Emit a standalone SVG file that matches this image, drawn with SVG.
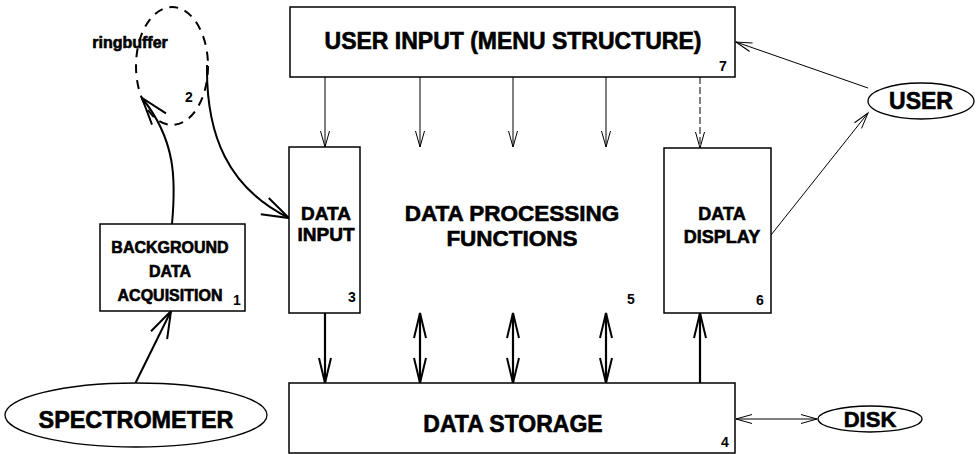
<svg xmlns="http://www.w3.org/2000/svg" width="976" height="454" viewBox="0 0 976 454">
  <style>
    .box { fill: #fff; stroke: #000; stroke-width: 1.5; }
    .oval { fill: #fff; stroke: #000; stroke-width: 1.3; }
    .lbl { font-family: "Liberation Sans", Arial, Helvetica, sans-serif; font-weight: bold; fill: #000; stroke: #000; stroke-width: 0.6; text-anchor: middle; }
    .num { font-family: "Liberation Sans", Arial, Helvetica, sans-serif; font-weight: bold; font-size: 14px; fill: #000; text-anchor: middle; }
    .thin { fill: none; stroke: #000; stroke-width: 1; }
    .thick { fill: none; stroke: #000; stroke-width: 2.2; }
    .curve { fill: none; stroke: #000; stroke-width: 2; }
  </style>
  <defs>
    <!-- open V arrowheads, sized in user units -->
    <marker id="vSmall" viewBox="-18 -6 20 12" refX="0" refY="0" markerWidth="20" markerHeight="12" orient="auto-start-reverse" markerUnits="userSpaceOnUse">
      <path d="M-16,-4.5 L0,0 L-16,4.5" fill="none" stroke="#000" stroke-width="1"/>
    </marker>
    <marker id="vLarge" viewBox="-28 -8 30 16" refX="0" refY="0" markerWidth="30" markerHeight="16" orient="auto-start-reverse" markerUnits="userSpaceOnUse">
      <path d="M-25,-6 L0,0 L-25,6" fill="none" stroke="#000" stroke-width="2"/>
    </marker>
    <marker id="vCurve" viewBox="-30 -12 32 24" refX="0" refY="0" markerWidth="32" markerHeight="24" orient="auto" markerUnits="userSpaceOnUse">
      <path d="M-27,-9 L0,0 L-27,9" fill="none" stroke="#000" stroke-width="2"/>
    </marker>
  </defs>

  <!-- connectors -->
  <g id="connectors">
    <!-- menu structure feeding the functions below -->
    <line class="thin" x1="325" y1="77" x2="325" y2="147" marker-end="url(#vSmall)"/>
    <line class="thin" x1="420" y1="77" x2="420" y2="147" marker-end="url(#vSmall)"/>
    <line class="thin" x1="513" y1="77" x2="513" y2="147" marker-end="url(#vSmall)"/>
    <line class="thin" x1="606" y1="77" x2="606" y2="147" marker-end="url(#vSmall)"/>
    <line class="thin" x1="700" y1="77" x2="700" y2="148" stroke-dasharray="7 3" marker-end="url(#vSmall)"/>

    <!-- storage links -->
    <line class="thick" x1="325" y1="313" x2="325" y2="383" marker-end="url(#vLarge)"/>
    <line class="thick" x1="420" y1="313" x2="420" y2="383" marker-start="url(#vLarge)" marker-end="url(#vLarge)"/>
    <line class="thick" x1="513" y1="313" x2="513" y2="383" marker-start="url(#vLarge)" marker-end="url(#vLarge)"/>
    <line class="thick" x1="606" y1="313" x2="606" y2="383" marker-start="url(#vLarge)" marker-end="url(#vLarge)"/>
    <line class="thick" x1="700" y1="383" x2="700" y2="313" marker-end="url(#vLarge)"/>

    <!-- user interaction -->
    <line class="thin" x1="868" y1="88" x2="736" y2="42" marker-end="url(#vSmall)"/>
    <line class="thin" x1="771" y1="235" x2="868" y2="113" marker-end="url(#vSmall)"/>

    <!-- disk exchange -->
    <line class="thin" x1="736" y1="419" x2="817" y2="419" marker-start="url(#vSmall)" marker-end="url(#vSmall)"/>

    <!-- acquisition path -->
    <line class="curve" x1="135" y1="384" x2="171" y2="311" marker-end="url(#vCurve)"/>
    <path class="curve" d="M172,224 C176,180 176,140 142,98" marker-end="url(#vCurve)"/>
    <path class="curve" d="M207,65 C206,135 228,188 289,218" marker-end="url(#vCurve)"/>
  </g>

  <g id="ringbuffer">
    <ellipse cx="172" cy="66" rx="36" ry="59" fill="none" stroke="#000" stroke-width="2" stroke-dasharray="9 7"/>
    <text class="lbl" x="130" y="48" font-size="16" stroke-width="0.4">ringbuffer</text>
    <text class="num" x="189" y="102">2</text>
  </g>

  <g id="user-input">
    <rect class="box" x="290" y="7" width="445" height="70"/>
    <text class="lbl" x="513" y="49" font-size="23">USER INPUT (MENU STRUCTURE)</text>
    <text class="num" x="723" y="71">7</text>
  </g>

  <g id="data-input">
    <rect class="box" x="289" y="147" width="71" height="166"/>
    <text class="lbl" x="326" y="220" font-size="19">DATA</text>
    <text class="lbl" x="326" y="241" font-size="19">INPUT</text>
    <text class="num" x="352" y="302">3</text>
  </g>

  <g id="processing">
    <text class="lbl" x="512" y="221" font-size="22.5">DATA PROCESSING</text>
    <text class="lbl" x="512" y="246" font-size="22.5">FUNCTIONS</text>
    <text class="num" x="631" y="304">5</text>
  </g>

  <g id="data-display">
    <rect class="box" x="664" y="148" width="107" height="165"/>
    <text class="lbl" x="722" y="220" font-size="18">DATA</text>
    <text class="lbl" x="722" y="243" font-size="18">DISPLAY</text>
    <text class="num" x="760" y="305">6</text>
  </g>

  <g id="data-storage">
    <rect class="box" x="289" y="383" width="446" height="70"/>
    <text class="lbl" x="513" y="432" font-size="23">DATA STORAGE</text>
    <text class="num" x="725" y="447">4</text>
  </g>

  <g id="acquisition">
    <rect class="box" x="100" y="224" width="145" height="87"/>
    <text class="lbl" x="170" y="253" font-size="16" stroke-width="0.5">BACKGROUND</text>
    <text class="lbl" x="170" y="277" font-size="16" stroke-width="0.5">DATA</text>
    <text class="lbl" x="170" y="301" font-size="16" stroke-width="0.5">ACQUISITION</text>
    <text class="num" x="237" y="305" font-size="12">1</text>
  </g>

  <g id="spectrometer">
    <ellipse class="oval" cx="136" cy="415" rx="131" ry="32"/>
    <text class="lbl" x="136" y="428" font-size="23.4">SPECTROMETER</text>
  </g>

  <g id="user">
    <ellipse class="oval" cx="921" cy="101" rx="53" ry="18"/>
    <text class="lbl" x="921" y="109" font-size="23">USER</text>
  </g>

  <g id="disk">
    <ellipse class="oval" cx="870" cy="419" rx="52" ry="13"/>
    <text class="lbl" x="870" y="427" font-size="22">DISK</text>
  </g>
</svg>
